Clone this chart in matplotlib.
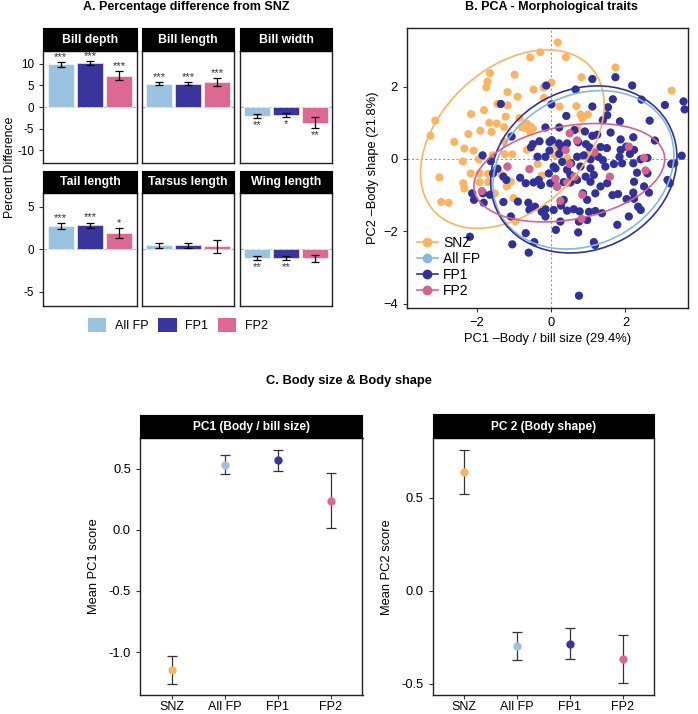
import matplotlib
matplotlib.use('Agg')
import matplotlib.pyplot as plt
from matplotlib.patches import Ellipse, Patch
from matplotlib.lines import Line2D
import numpy as np

plt.rcParams['font.family'] = ['Liberation Sans', 'DejaVu Sans']

# ---------------- data ----------------
# Panel A: percentage difference from SNZ
traits = ['Bill depth', 'Bill length', 'Bill width', 'Tail length', 'Tarsus length', 'Wing length']
bar_groups = ['All FP', 'FP1', 'FP2']
pct_allfp = [9.95, 5.45, -2.05, 2.75, 0.47, -1.0]
pct_fp1 = [10.2, 5.4, -1.9, 2.86, 0.47, -1.0]
pct_fp2 = [7.3, 5.8, -3.6, 1.96, 0.35, -1.06]
se_allfp = [0.55, 0.3, 0.42, 0.3, 0.25, 0.2]
se_fp1 = [0.5, 0.3, 0.42, 0.3, 0.25, 0.2]
se_fp2 = [1.05, 1.0, 1.25, 0.6, 0.75, 0.43]
sig_allfp = ['***', '***', '**', '***', '', '**']
sig_fp1 = ['***', '***', '*', '***', '', '**']
sig_fp2 = ['***', '***', '**', '*', '', '']
row1_ticks = [-10, -5, 0, 5, 10]
row2_ticks = [-5, 0, 5]

# Panel B: PCA scores
snz_pc1 = [0.18, -0.29, -0.56, 0.40, 1.73, 3.24, -0.98, -1.64, -1.71, -1.74, 0.01, -0.20, -0.47, 0.82,
           -1.17, -0.90, -0.19, -1.44, -1.17, -1.80, -2.15, 0.23, 0.68, 0.99, 0.79, -3.11, -3.24, -0.85,
           -1.22, -1.66, -1.46, -1.26, -0.79, -0.65, -0.54, -0.49, -1.90, -1.60, -2.22, -2.60, -2.33,
           -2.08, -2.37, -1.94, -1.57, -1.24, -1.04, -1.26, -0.65, -0.38, 0.12, 0.07, -0.36, -0.25,
           -1.92, -2.16, -1.69, -1.69, -2.36, -2.33, -3.00, -2.95, -2.75, -1.92, -1.33, -1.08, -1.01,
           -0.96, -1.51, -1.19, 0.43, 0.16, 1.04, 0.72, 0.84, -0.56, -0.69]
snz_pc2 = [3.22, 2.95, 2.81, 2.81, 2.53, 1.89, 2.33, 2.37, 2.14, 1.98, 2.11, 1.98, 1.92, 2.26,
           1.85, 1.72, 1.69, 1.52, 1.48, 1.35, 1.24, 1.45, 1.46, 1.23, 1.23, 1.06, 0.64, 1.13,
           1.17, 1.00, 0.98, 0.88, 0.88, 0.98, 0.89, 0.83, 0.78, 0.75, 0.69, 0.47, 0.29,
           0.23, -0.07, -0.01, 0.10, 0.13, 0.13, 0.48, 0.25, 0.06, 0.10, 0.43, -0.14, -0.46,
           -0.40, -0.40, -0.41, -0.64, -0.67, -0.82, -0.51, -1.19, -1.21, -0.64, -0.43, -0.63, -1.08,
           -1.73, -0.95, -0.76, 0.02, 0.34, 0.18, 0.82, 1.12, 0.75, 0.85]

fp1_pc1 = [-0.13, 0.66, 1.11, 1.73, 2.18, 1.66, 2.43, 3.06, 3.56, 3.59, -1.35, 0.01, 1.11, 1.53, 0.41,
           1.51, 1.39, 1.85, 2.65, -0.15, 0.22, 0.63, 0.91, 1.11, 1.24, 1.60, 1.87, 2.21, 2.79, -1.06,
           -0.49, -0.31, -0.04, 0.02, 0.21, 0.43, 0.73, 0.94, 1.04, 1.33, 1.50, 1.87, 2.02, 2.23, -1.84,
           -1.62, -1.44, -1.28, -0.54, -0.36, -0.04, 0.22, 0.30, 0.54, 0.88, 1.06, 1.27, 1.39, 1.46,
           1.69, 1.84, 1.91, 2.12, 2.21, 2.41, 2.59, 2.31, 2.59, 3.23, 3.51, 3.31, 3.19, 3.13, -0.06,
           -0.47, -0.27, -0.02, 0.16, 0.34, 0.52, 0.70, 0.93, 1.06, 1.15, 1.33, 1.51, 1.65, 1.80, 2.03,
           2.21, 2.23, 2.34, 2.41, 2.09, 1.78, 1.19, 0.97, 0.86, 0.34, 0.27, 0.07, -0.15, -0.15, 0.43,
           0.61, 0.77, 1.02, 1.19, 0.97, -0.58, -1.08, -1.56, -2.12, -2.07, -1.81, -1.83, -1.64, -1.28,
           -0.89, -0.61, -0.43, -0.25, -2.18, -1.04, -0.60, -0.68, -0.45, 0.13, 0.73, 1.15, 1.18, 0.75,
           0.25, 0.75, 1.37, -0.68, -0.83, -1.20, 0.27, 0.70, 0.79, 1.06, 0.43, 0.07, -0.15, -0.33,
           2.63, 2.50, 2.23, 0.12, 0.52]
fp1_pc2 = [2.03, 1.92, 2.21, 2.26, 2.03, 1.65, 1.64, 1.49, 1.59, 1.37, 1.52, 1.51, 1.45, 1.43, 1.19,
           1.21, 1.07, 1.04, 1.06, 0.87, 0.87, 0.80, 0.76, 0.64, 0.67, 0.73, 0.54, 0.60, 0.51, 0.62,
           0.41, 0.49, 0.47, 0.52, 0.43, 0.43, 0.46, 0.41, 0.32, 0.33, 0.30, 0.25, 0.34, 0.25, 0.10,
           -0.06, -0.27, -0.49, 0.32, 0.06, 0.23, 0.14, -0.08, -0.12, 0.10, -0.01, 0.06, -0.03, -0.21,
           -0.14, 0.06, -0.12, 0.14, -0.12, -0.01, 0.03, -0.38, -0.40, -0.14, 0.09, -0.12, -0.67, -0.58, -0.40,
           -0.65, -0.72, -0.67, -0.76, -0.64, -0.65, -0.58, -0.49, -0.63, -0.44, -0.76, -0.67, -1.00, -0.97, -1.11,
           -0.93, -1.10, -1.32, -1.41, -1.59, -1.82, -0.95, -1.13, -0.95, -1.13, -1.29, -1.41, -1.59, -1.39, -1.43,
           -1.39, -1.45, -1.46, -1.44, -1.69, -1.41, -1.59, -0.40, -0.95, -1.13, -1.21, -0.95, -0.99, -1.19,
           -1.18, -1.21, -1.32, -1.46, -2.15, -2.36, -2.59, -2.05, -2.30, -1.96, -2.03, -2.30, -2.38, -3.78,
           -1.73, -1.73, -1.50, -0.67, -0.52, -0.58, 0.34, 0.06, -0.21, -0.26, -0.30, -0.21, 0.06, -0.58,
           -0.93, -0.76, -0.63, -0.26, -0.44]

fp2_pc1 = [0.50, 0.70, 0.39, 1.17, 0.50, 2.09, 2.50, 2.54, 1.58, -0.58, -1.17, -1.86, 0.12, 0.16,
           0.43, 0.63, 0.25, 0.84, 0.82]
fp2_pc2 = [0.71, 0.51, 0.25, 0.18, -0.14, 0.34, 0.03, -0.32, -0.49, -0.28, -0.21, -0.89, -0.55, -0.76,
           -0.65, -0.49, -1.16, -0.99, -1.66]

allfp_pc1 = fp1_pc1 + fp2_pc1
allfp_pc2 = fp1_pc2 + fp2_pc2

# 95% ellipses (centre, semi-axes, rotation in degrees) for SNZ, All FP, FP1, FP2
ell_cx = [-1.04, 0.87, 0.88, 0.49]
ell_cy = [0.55, -0.30, -0.29, -0.38]
ell_a = [2.90, 2.55, 2.60, 2.60]
ell_b = [1.94, 2.05, 2.20, 1.29]
ell_angle = [45, 30.5, 30.5, 11]

# Panel C: mean PC scores
pc_groups = ['SNZ', 'All FP', 'FP1', 'FP2']
pc1_mean = [-1.145, 0.53, 0.568, 0.239]
pc1_err = [0.115, 0.078, 0.084, 0.225]
pc2_mean = [0.639, -0.295, -0.285, -0.367]
pc2_err = [0.117, 0.075, 0.083, 0.128]

# colours
c_snz = '#FCB462'
c_allfp = '#9AC3E2'
c_fp1 = '#3A359D'
c_fp2 = '#DC6893'
pc_colors = [c_snz, c_allfp, c_fp1, c_fp2]

# ---------------- figure ----------------
W, H = 698, 714
fig = plt.figure(figsize=(W / 100, H / 100), dpi=100)


def box(x0, y0, x1, y1):
    return fig.add_axes([x0 / W, 1 - y1 / H, (x1 - x0) / W, (y1 - y0) / H])


def strip(x0, y0, x1, y1, label, fs):
    s = box(x0, y0, x1, y1)
    s.set_facecolor('black')
    s.set_xticks([])
    s.set_yticks([])
    for sp in s.spines.values():
        sp.set_color('black')
    s.text(0.5, 0.48, label, color='white', fontweight='bold', ha='center', va='center',
           fontsize=fs, transform=s.transAxes)
    return s


def style_axes(ax, lw=1.0):
    for sp in ax.spines.values():
        sp.set_linewidth(lw)
        sp.set_color('#222222')
    ax.tick_params(direction='out', length=3, width=0.8, color='#333333')


# ---- Panel A ----
fig.text(186 / W, 1 - 7 / H, 'A. Percentage difference from SNZ', ha='center', va='center',
         fontsize=9, fontweight='bold')
colsA = [(43.3, 136.7), (142, 234.3), (240, 332.3)]
rowsA = [((28.3, 51), (51, 163), (-13, 13), row1_ticks),
         ((170.7, 193.3), (193.3, 305.5), (-6.6, 6.6), row2_ticks)]
bar_cols = [c_allfp, c_fp1, c_fp2]
vals = [pct_allfp, pct_fp1, pct_fp2]
errs = [se_allfp, se_fp1, se_fp2]
sigs = [sig_allfp, sig_fp1, sig_fp2]
for i, trait in enumerate(traits):
    r, c = divmod(i, 3)
    (sy0, sy1), (py0, py1), ylim, yt = rowsA[r]
    x0, x1 = colsA[c]
    ax = box(x0, py0, x1, py1)
    strip(x0, sy0, x1, sy1, trait, 8.8)
    ax.axhline(0, color='#B0B0B0', lw=0.8, ls=(0, (3, 2)), zorder=1)
    xs = np.arange(1, 4)
    for j in range(3):
        v = vals[j][i]
        e = errs[j][i]
        ax.bar(xs[j], v, width=0.9, color=bar_cols[j], edgecolor='white', linewidth=0.4, zorder=2)
        ax.errorbar(xs[j], v, yerr=e, color='black', lw=0.9, capsize=2.6, capthick=0.9, zorder=3)
        s = sigs[j][i]
        if s:
            if v >= 0:
                ax.annotate(s, (xs[j], v + e), xytext=(0, 0), textcoords='offset points',
                            ha='center', va='bottom', fontsize=8, color='#333333')
            else:
                ax.annotate(s, (xs[j], v - e), xytext=(0, -1.5), textcoords='offset points',
                            ha='center', va='top', fontsize=8, color='#333333')
    ax.set_xlim(0.4, 3.6)
    ax.set_ylim(*ylim)
    ax.set_xticks([])
    style_axes(ax)
    if c == 0:
        ax.set_yticks(yt)
        ax.set_yticklabels([str(t) for t in yt], fontsize=8.4)
    else:
        ax.set_yticks([])

fig.text(10 / W, 1 - 167 / H, 'Percent Difference', rotation=90, ha='center', va='center', fontsize=8.8)
legA = [Patch(facecolor=bar_cols[j], edgecolor='none', label=bar_groups[j]) for j in range(3)]
fig.legend(handles=legA, loc='center', bbox_to_anchor=(178 / W, 1 - 325 / H), ncol=3, frameon=False,
           fontsize=9, handlelength=1.45, handleheight=1.45, columnspacing=0.8, handletextpad=0.7)

# ---- Panel B ----
fig.text(551 / W, 1 - 7 / H, 'B. PCA - Morphological traits', ha='center', va='center',
         fontsize=9, fontweight='bold')
axB = box(407, 28, 688, 308)
axB.axhline(0, color='#999999', lw=0.8, ls=(0, (2, 2)), zorder=0)
axB.axvline(0, color='#999999', lw=0.8, ls=(0, (2, 2)), zorder=0)
pts = [(snz_pc1, snz_pc2, c_snz, 'SNZ'), (allfp_pc1, allfp_pc2, '#84B8DE', 'All FP'),
       (fp1_pc1, fp1_pc2, '#34309A', 'FP1'), (fp2_pc1, fp2_pc2, '#D8628F', 'FP2')]
for k, (px, py, col, lab) in enumerate(pts):
    axB.scatter(px, py, s=34, color=col, edgecolor='none', zorder=2 + k)
ell_colors = [c_snz, '#84B8DE', '#34309A', '#D8628F']
for k in range(4):
    e = Ellipse((ell_cx[k], ell_cy[k]), 2 * ell_a[k], 2 * ell_b[k], angle=ell_angle[k],
                fill=False, edgecolor=ell_colors[k], lw=1.2, zorder=8)
    axB.add_patch(e)
axB.set_xlim(-3.87, 3.68)
axB.set_ylim(-4.12, 3.62)
axB.set_xticks([-2, 0, 2])
axB.set_yticks([-4, -2, 0, 2])
axB.tick_params(labelsize=9.3)
style_axes(axB)
axB.set_xlabel('PC1 \u2013Body / bill size (29.4%)', fontsize=9.3, labelpad=3)
axB.set_ylabel('PC2 \u2013Body shape (21.8%)', fontsize=9.3, labelpad=3)
handlesB = [Line2D([0], [0], color=col, marker='o', markersize=6, lw=1.2, label=lab)
            for (_, _, col, lab) in pts]
axB.legend(handles=handlesB, loc='lower left', frameon=False, fontsize=10, handlelength=1.5,
           handletextpad=0.4, labelspacing=0.15, borderaxespad=0.3)

# ---- Panel C ----
fig.text(349 / W, 1 - 381 / H, 'C. Body size & Body shape', ha='center', va='center',
         fontsize=9.3, fontweight='bold')
panelsC = [((140, 415, 362.5, 438), (140, 438, 362.5, 695), pc1_mean, pc1_err, 'PC1 (Body / bill size)',
            'Mean PC1 score', (-1.35, 0.75), [-1.0, -0.5, 0.0, 0.5]),
           ((432.6, 414.3, 654.4, 438.3), (432.6, 438.3, 654.4, 695), pc2_mean, pc2_err, 'PC 2 (Body shape)',
            'Mean PC2 score', (-0.56, 0.82), [-0.5, 0.0, 0.5])]
for sbox, abox, mean, err, title, ylab, ylim, yt in panelsC:
    ax = box(*abox)
    strip(*sbox, title, 8.6)
    xs = np.arange(1, 5)
    for j in range(4):
        ax.errorbar(xs[j], mean[j], yerr=err[j], color='#333333', lw=0.9, capsize=3.6, capthick=0.9,
                    zorder=2)
        ax.plot(xs[j], mean[j], 'o', color=pc_colors[j], markersize=6, markeredgewidth=0, zorder=3)
    ax.set_xlim(0.4, 4.6)
    ax.set_ylim(*ylim)
    ax.set_xticks(xs)
    ax.set_xticklabels(pc_groups, fontsize=9)
    ax.set_yticks(yt)
    ax.set_yticklabels(['%.1f' % t for t in yt], fontsize=9.3)
    style_axes(ax)
    ax.tick_params(axis='x', pad=1.5)
    ax.set_ylabel(ylab, fontsize=9.3, labelpad=6)

fig.savefig('out.png', dpi=100)
